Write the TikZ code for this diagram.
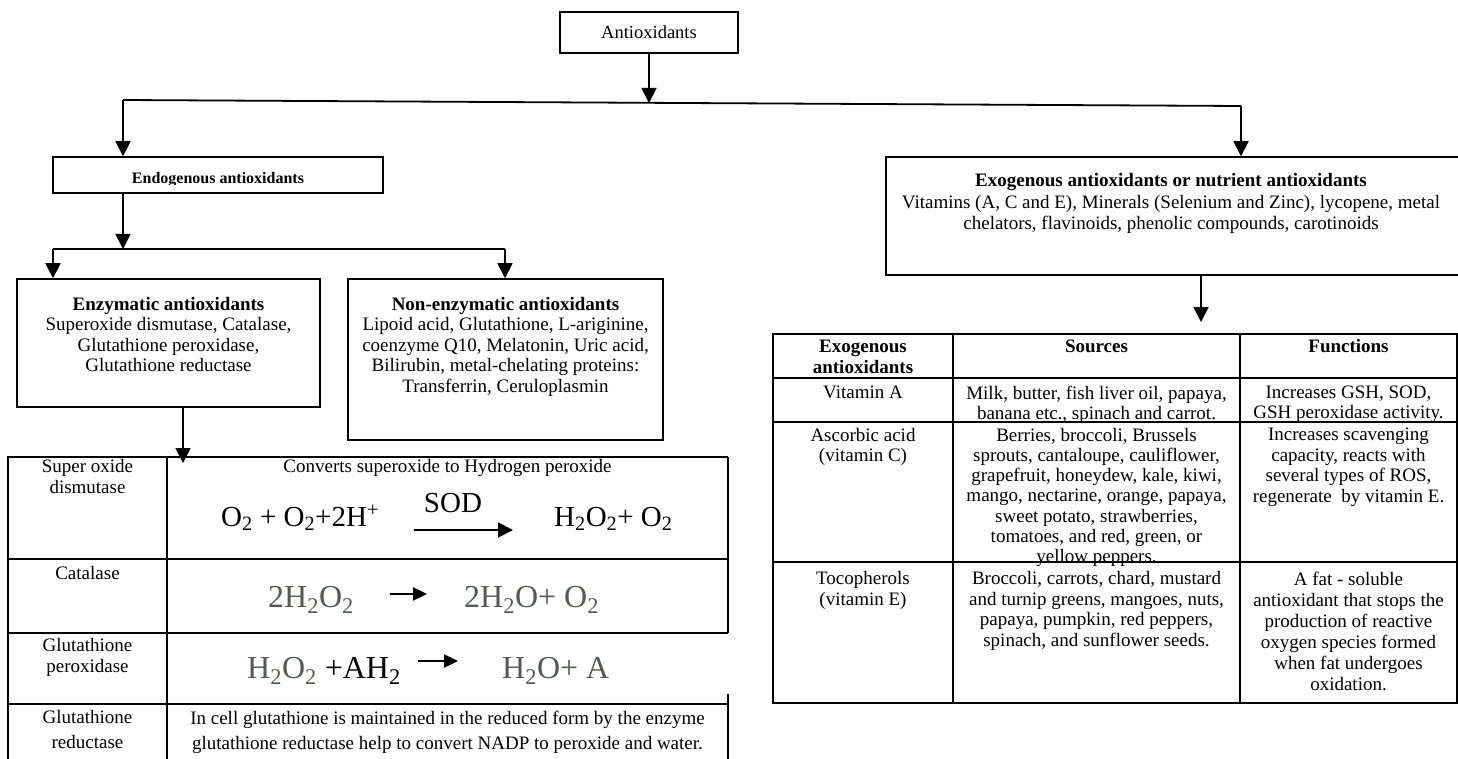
\documentclass[tikz,border=0pt]{standalone}
\usepackage{fontspec}
\setmainfont{Liberation Serif}
\usetikzlibrary{positioning, arrows.meta, calc}
\definecolor{eqgray}{RGB}{84,90,82}
\newcommand{\fs}[2]{\fontsize{#1}{#2}\selectfont}

\begin{document}
\begin{tikzpicture}[
    x=1pt, y=-1pt,
    frame/.style={rectangle, draw, line width=1.5pt, inner sep=0pt},
    txt/.style={align=center, inner sep=0pt, anchor=north, font=\fs{19}{20.5}},
    grid/.style={line width=1.7pt},
    link/.style={line width=1.8pt},
    arrow/.style={-{Triangle[length=15pt, width=15pt]}, line width=1.8pt},
    rxn/.style={-{Triangle[length=14pt, width=13pt]}, line width=2.4pt},
    eqn/.style={inner sep=0pt, anchor=base west, font=\fs{32}{36}, text=eqgray}
]
    \useasboundingbox (0,0) rectangle (1458,759);

    % boxes
    \node [frame, minimum width=178pt, minimum height=41pt, font=\fs{18.5}{20}] (anti) at (649,32.5) {\raisebox{-2pt}{Antioxidants}};
    \node [frame, minimum width=330pt, minimum height=36pt] (endo) at (218,175) {};
    \node [frame, minimum width=303pt, minimum height=128pt] (enz) at (168.5,343) {};
    \node [frame, minimum width=315pt, minimum height=161pt] (nonenz) at (505.5,359.5) {};
    \node [frame, minimum width=576pt, minimum height=118pt] (exo) at (1174,216) {};

    \begin{scope}
        \clip (endo.north west) rectangle ($(endo.east)+(0,9.5)$);
        \node [inner sep=0pt, anchor=base, font=\bfseries\fs{16}{18}] (endotxt) at (218,183.3) {Endogenous antioxidants};
    \end{scope}
    \node [txt, below=18.5pt of enz.north] (enztxt) {\textbf{Enzymatic antioxidants}\\Superoxide dismutase, Catalase,\\Glutathione peroxidase,\\Glutathione reductase};
    \node [txt, below=18.5pt of nonenz.north] (nonenztxt) {\textbf{Non-enzymatic antioxidants}\\Lipoid acid, Glutathione, L-ariginine,\\coenzyme Q10, Melatonin, Uric acid,\\Bilirubin, metal-chelating proteins:\\Transferrin, Ceruloplasmin};
    \node [txt, font=\fs{19}{21.5}] (exotxt) at (1171,173.5) {\textbf{Exogenous antioxidants or nutrient antioxidants}\\Vitamins (A, C and E), Minerals (Selenium and Zinc), lycopene, metal\\chelators, flavinoids, phenolic compounds, carotinoids};

    % connectors
    \coordinate (hl) at (123,100);
    \coordinate (hr) at (1241,106);
    \coordinate (hmid) at (649,103);
    \coordinate (jl) at (53,249);
    \coordinate (jr) at (505,249);
    \coordinate (tabL) at (183,463);
    \coordinate (tabR) at (1201,322);

    \draw [link] (hl) -- (hr);
    \draw [arrow] (anti.south) -- (hmid);
    \draw [arrow] (hl) -- (hl |- endo.north);
    \draw [arrow] (hr) -- (hr |- exo.north);
    \draw [arrow] (hl |- endo.south) -- (hl |- jl);
    \draw [link] (jl) -- (jr);
    \draw [arrow] (jl) -- (jl |- enz.north);
    \draw [arrow] (jr) -- (jr |- nonenz.north);
    \draw [arrow] (tabL |- enz.south) -- (tabL);
    \draw [arrow] (tabR |- exo.south) -- (tabR);

    % enzyme table
    \draw [grid] (728,457) -- (8,457) -- (8,775);
    \draw [grid] (167,457) -- (167,775);
    \foreach \y in {559,633,704}
        \draw [grid] (8,\y) -- (728,\y);
    \draw [grid] (728,457) -- (728,633);
    \draw [grid] (728,694) -- (728,775);

    \node [txt] (sodname) at (87.5,459.5) {Super oxide\\dismutase};
    \node [txt] (sodnote) at (447.5,459.5) {Converts superoxide to Hydrogen peroxide};
    \node [txt] (catname) at (87.5,566.5) {Catalase};
    \node [txt] (gpxname) at (87.5,638.5) {Glutathione\\peroxidase};
    \node [txt, font=\fs{19}{25}] (grname) at (87.5,710.5) {Glutathione\\reductase};
    \node [txt, font=\fs{19}{25}] (grnote) at (447.5,710.5) {In cell glutathione is maintained in the reduced form by the enzyme\\glutathione reductase help to convert NADP to peroxide and water.};

    \node [eqn, font=\fs{29}{32}, text=black] (sodin) at (221,526) {O\textsubscript{2} + O\textsubscript{2}+2H\textsuperscript{+}};
    \node [eqn, font=\fs{29}{32}, text=black, anchor=base] (sodlbl) at (453,512) {SOD};
    \node [eqn, font=\fs{29}{32}, text=black] (sodout) at (554,526) {H\textsubscript{2}O\textsubscript{2}+ O\textsubscript{2}};
    \coordinate (sodL) at (414,530);
    \coordinate (sodR) at (513,530);
    \draw [rxn, line width=2pt, -{Triangle[length=15pt, width=15pt]}] (sodL) -- (sodR);

    \node [eqn] (catin) at (268,607) {2H\textsubscript{2}O\textsubscript{2}};
    \node [eqn] (catout) at (464,607) {2H\textsubscript{2}O+ O\textsubscript{2}};
    \coordinate (catL) at (390,594);
    \coordinate (catR) at (427,594);
    \draw [rxn] (catL) -- (catR);

    \node [eqn] (gpxin) at (247,678) {H\textsubscript{2}O\textsubscript{2}\hspace{0.25em}\textcolor{black}{+AH\textsubscript{2}}};
    \node [eqn] (gpxout) at (502,678) {H\textsubscript{2}O+ A};
    \coordinate (gpxL) at (418,661);
    \coordinate (gpxR) at (458,661);
    \draw [rxn] (gpxL) -- (gpxR);

    % exogenous table
    \draw [grid] (773,334) rectangle (1457,703);
    \foreach \y in {378,422,562}
        \draw [grid] (773,\y) -- (1457,\y);
    \foreach \x in {953,1240}
        \draw [grid] (\x,334) -- (\x,703);

    \node [txt, font=\bfseries\fs{19}{21.5}] (hdname) at (863,339.5) {Exogenous\\antioxidants};
    \node [txt, font=\bfseries\fs{19}{21.5}] (hdsrc) at (1096.5,339.5) {Sources};
    \node [txt, font=\bfseries\fs{19}{21.5}] (hdfun) at (1348.5,339.5) {Functions};

    \node [txt] (vaname) at (863,385.5) {Vitamin A};
    \node [txt] (vasrc) at (1096.5,385.5) {Milk, butter, fish liver oil, papaya,\\banana etc., spinach and carrot.};
    \node [txt] (vafun) at (1348.5,385.5) {Increases GSH, SOD,\\GSH peroxidase activity.};

    \node [txt] (vcname) at (863,428) {Ascorbic acid\\(vitamin C)};
    \node [txt, font=\fs{19}{20.2}] (vcsrc) at (1096.5,428) {Berries, broccoli, Brussels\\sprouts, cantaloupe, cauliflower,\\grapefruit, honeydew, kale, kiwi,\\mango, nectarine, orange, papaya,\\sweet potato, strawberries,\\tomatoes, and red, green, or\\yellow peppers.};
    \node [txt] (vcfun) at (1348.5,428) {Increases scavenging\\capacity, reacts with\\several types of ROS,\\regenerate\ \ by vitamin E.};

    \node [txt] (vename) at (863,571.5) {Tocopherols\\(vitamin E)};
    \node [txt] (vesrc) at (1096.5,571.5) {Broccoli, carrots, chard, mustard\\and turnip greens, mangoes, nuts,\\papaya, pumpkin, red peppers,\\spinach, and sunflower seeds.};
    \node [txt, font=\fs{19}{21}] (vefun) at (1348.5,571.5) {A fat - soluble\\antioxidant that stops the\\production of reactive\\oxygen species formed\\when fat undergoes\\oxidation.};
\end{tikzpicture}
\end{document}
